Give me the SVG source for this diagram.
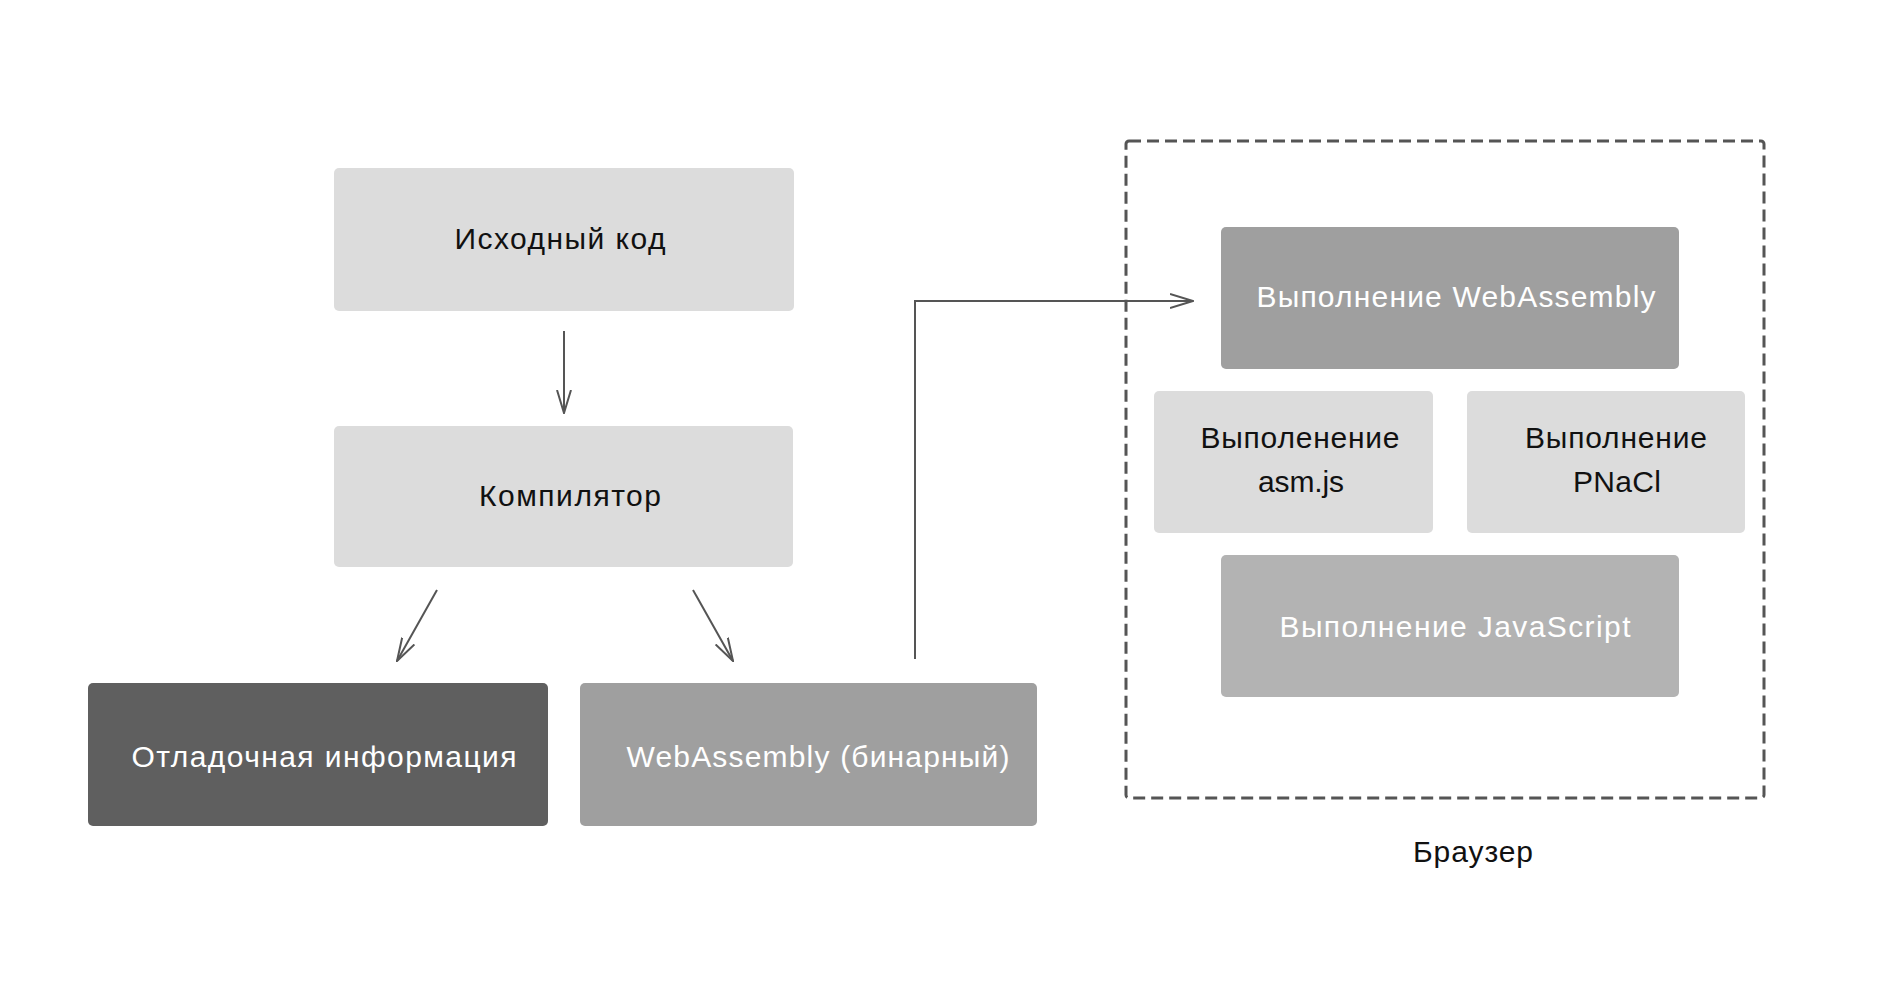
<svg xmlns="http://www.w3.org/2000/svg" width="1901" height="985" viewBox="0 0 1901 985">
<defs>
<style>
.box{stroke:none}
.light{fill:#dcdcdc}
.mid{fill:#9f9f9f}
.js{fill:#b3b3b3}
.dark{fill:#5f5f5f}
text{font-family:"Liberation Sans","Noto Sans",sans-serif;font-size:30px;text-anchor:middle}
.tb{fill:#111}
.tw{fill:#fff}
.conn{fill:none;stroke:#555;stroke-width:2}
</style>
<marker id="arr" viewBox="0 0 24 16" refX="23" refY="8" markerWidth="24" markerHeight="16" markerUnits="userSpaceOnUse" orient="auto">
<path d="M0,1 L23,8 L0,15" fill="none" stroke="#555" stroke-width="2"/>
</marker>
</defs>
<rect width="1901" height="985" fill="#fff"/>

<g id="browser">
<rect x="1126" y="141" width="638" height="657" rx="3" fill="none" stroke="#555" stroke-width="3" stroke-dasharray="12 6"/>
<text class="tb" x="1473" y="862" textLength="120">Браузер</text>
</g>

<g id="connectors">
<line class="conn" x1="564" y1="331" x2="564" y2="413" marker-end="url(#arr)"/>
<line class="conn" x1="437" y1="590" x2="397" y2="661" marker-end="url(#arr)"/>
<line class="conn" x1="693" y1="590" x2="733" y2="661" marker-end="url(#arr)"/>
<polyline class="conn" points="915,659 915,301 1193,301" marker-end="url(#arr)"/>
</g>

<g id="source">
<rect class="box light" x="334" y="168" width="460" height="143" rx="5"/>
<text class="tb" x="560" y="249" textLength="211">Исходный код</text>
</g>

<g id="compiler">
<rect class="box light" x="334" y="426" width="459" height="141" rx="5"/>
<text class="tb" x="570" y="506" textLength="182">Компилятор</text>
</g>

<g id="debug">
<rect class="box dark" x="88" y="683" width="460" height="143" rx="5"/>
<text class="tw" x="324" y="767" textLength="385">Отладочная информация</text>
</g>

<g id="wasm-bin">
<rect class="box mid" x="580" y="683" width="457" height="143" rx="5"/>
<text class="tw" x="818" y="767" textLength="383">WebAssembly (бинарный)</text>
</g>

<g id="wasm-exec">
<rect class="box mid" x="1221" y="227" width="458" height="142" rx="5"/>
<text class="tw" x="1456" y="307" textLength="399">Выполнение WebAssembly</text>
</g>

<g id="asmjs">
<rect class="box light" x="1154" y="391" width="279" height="142" rx="5"/>
<text class="tb" x="1300" y="448" textLength="199">Выполенение</text>
<text class="tb" x="1301" y="492" textLength="86">asm.js</text>
</g>

<g id="pnacl">
<rect class="box light" x="1467" y="391" width="278" height="142" rx="5"/>
<text class="tb" x="1616" y="448" textLength="182">Выполнение</text>
<text class="tb" x="1617" y="492" textLength="88">PNaCl</text>
</g>

<g id="js-exec">
<rect class="box js" x="1221" y="555" width="458" height="142" rx="5"/>
<text class="tw" x="1455" y="637" textLength="351">Выполнение JavaScript</text>
</g>
</svg>
